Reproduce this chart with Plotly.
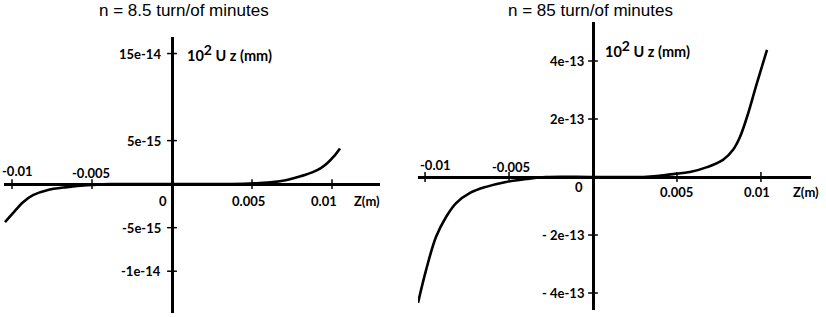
import plotly.graph_objects as go

# ---------------- data ----------------
titles = ["n = 8.5 turn/of minutes", "n = 85 turn/of minutes"]
y_label = "10<sup><span style='font-size:14px'>2</span></sup> U z (mm)"
x_label = "Z(m)"

# left panel (n = 8.5)
z1 = [-0.01044, -0.00994, -0.00931, -0.00869, -0.00781, -0.00656, -0.00531, -0.00388, 0.0,
      0.0045, 0.0053, 0.0063, 0.0071, 0.0078, 0.0083, 0.0088, 0.0093, 0.0097, 0.0101, 0.0105]
u1 = [-4.37e-15, -3.33e-15, -2.07e-15, -1.26e-15, -0.69e-15, -0.34e-15, -0.11e-15, 0.0, 0.0,
      0.03e-15, 0.10e-15, 0.23e-15, 0.45e-15, 0.80e-15, 1.05e-15, 1.38e-15, 1.85e-15, 2.4e-15, 3.15e-15, 4.1e-15]

# right panel (n = 85)
z2 = [-0.01042, -0.00994, -0.00935, -0.00875, -0.00815, -0.00732, -0.00637, -0.00518, -0.00399,
      -0.0028, 0.0, 0.0030, 0.00381, 0.00476, 0.00577, 0.00679, 0.00774, 0.00833, 0.00875,
      0.00917, 0.00976, 0.01036]
u2 = [-4.34e-13, -3.21e-13, -2.07e-13, -1.38e-13, -0.90e-13, -0.55e-13, -0.34e-13, -0.17e-13, -0.07e-13,
      0.0, 0.0, 0.0, 0.03e-13, 0.10e-13, 0.17e-13, 0.34e-13, 0.59e-13, 0.93e-13, 1.38e-13,
      2.07e-13, 3.24e-13, 4.38e-13]

# tick labels
x1_ticks_top = [-0.01, -0.005]
x1_ticks_bot = [0.005, 0.01]
y1_ticks = [1.5e-14, 5e-15, -5e-15, -1e-14]
y1_text = ["15e-14", "5e-15", "-5e-15", "-1e-14"]

x2_ticks_top = [-0.01, -0.005]
x2_ticks_bot = [0.005, 0.01]
y2_ticks = [4e-13, 2e-13, -2e-13, -4e-13]
y2_text = ["4e-13", "2e-13", "- 2e-13", "- 4e-13"]

# ---------------- figure ----------------
W, H = 826, 317
fig = go.Figure()

LINE = dict(color="black", width=2.6)
fig.add_trace(go.Scatter(x=z1, y=u1, mode="lines", line=LINE, line_shape="spline",
                         line_smoothing=1.0,
                         xaxis="x", yaxis="y", showlegend=False, hoverinfo="skip"))
fig.add_trace(go.Scatter(x=z2, y=u2, mode="lines", line=LINE, line_shape="spline",
                         line_smoothing=1.0,
                         xaxis="x2", yaxis="y2", showlegend=False, hoverinfo="skip"))

# small tick marks on the crossing axes
for xa, ya, xt, yt in [("x", "y", x1_ticks_top + x1_ticks_bot, y1_ticks),
                       ("x2", "y2", x2_ticks_top + x2_ticks_bot, y2_ticks)]:
    fig.add_trace(go.Scatter(x=xt, y=[0] * len(xt), mode="markers", xaxis=xa, yaxis=ya,
                             marker=dict(symbol="line-ns", size=7, line=dict(color="black", width=1.5)),
                             showlegend=False, hoverinfo="skip"))
    fig.add_trace(go.Scatter(x=[0] * len(yt), y=yt, mode="markers", xaxis=xa, yaxis=ya,
                             marker=dict(symbol="line-ew", size=7, line=dict(color="black", width=1.5)),
                             showlegend=False, hoverinfo="skip"))

AX = dict(showgrid=False, showticklabels=False, ticks="", showline=False,
          zeroline=True, zerolinecolor="black", zerolinewidth=3, fixedrange=True)

fig.update_layout(
    width=W, height=H,
    margin=dict(l=0, r=0, t=0, b=0),
    paper_bgcolor="white", plot_bgcolor="white",
    xaxis=dict(AX, domain=[4 / W, 380 / W], range=[-0.0105, 0.0130]),
    yaxis=dict(AX, domain=[1 - 313 / H, 1 - 37 / H], range=[-14.8e-15, 16.9e-15]),
    xaxis2=dict(AX, domain=[418 / W, 811 / W], range=[-0.01042, 0.01298]),
    yaxis2=dict(AX, domain=[1 - 310 / H, 1 - 22 / H], range=[-4.586e-13, 5.345e-13]),
)

LBL = dict(family="Lato, 'Open Sans', sans-serif", size=13, color="black")
YL = dict(family="Lato, 'Open Sans', sans-serif", size=14.5, color="black")
ann = []


def add(text, x, y, xref, yref, xanchor="center", yanchor="middle", xshift=0, yshift=0, font=LBL):
    ann.append(dict(text=text, x=x, y=y, xref=xref, yref=yref, showarrow=False,
                    xanchor=xanchor, yanchor=yanchor, xshift=xshift, yshift=yshift, font=font))


def bold(t):
    return "<b>" + t + "</b>"


# left panel labels
for v, t in zip(y1_ticks, y1_text):
    add(bold(t), 0, v, "x", "y", xanchor="right", xshift=-9)
add(bold("-0.01"), -0.01, 0, "x", "y", yshift=13, xshift=5)
add(bold("-0.005"), -0.005, 0, "x", "y", yshift=11, xshift=-1)
add(bold("0"), 0, 0, "x", "y", yshift=-17, xshift=-9)
add(bold("0.005"), 0.005, 0, "x", "y", yshift=-17, xshift=-4)
add(bold("0.01"), 0.01, 0, "x", "y", yshift=-17, xshift=-8)
add(bold(x_label), 0.0128, 0, "x", "y", yshift=-17, xshift=-10)
add(bold(y_label), 0, 1.5e-14, "x", "y", xanchor="left", xshift=13, yshift=1, font=YL)

# right panel labels
for v, t in zip(y2_ticks, y2_text):
    add(bold(t), 0, v, "x2", "y2", xanchor="right", xshift=-7)
add(bold("-0.01"), -0.01, 0, "x2", "y2", yshift=12, xshift=10)
add(bold("-0.005"), -0.005, 0, "x2", "y2", yshift=10, xshift=2)
add(bold("0"), 0, 0, "x2", "y2", yshift=-10, xshift=-14)
add(bold("0.005"), 0.005, 0, "x2", "y2", yshift=-15, xshift=0)
add(bold("0.01"), 0.01, 0, "x2", "y2", yshift=-15, xshift=-4)
add(bold(x_label), 0.01268, 0, "x2", "y2", yshift=-15)
add(bold(y_label), 0, 4.41e-13, "x2", "y2", xanchor="left", xshift=10, yshift=1, font=YL)

TF = dict(family="'Liberation Sans', Arial, sans-serif", size=17, color="black")
add(titles[0], 184 / W, 1 - 10 / H, "paper", "paper", font=TF)
add(titles[1], 590 / W, 1 - 10 / H, "paper", "paper", font=TF)

fig.update_layout(annotations=ann)
fig.write_html("out.html", config={"displayModeBar": False},
               post_script="document.body.style.margin='0';document.body.style.overflow='hidden';")
